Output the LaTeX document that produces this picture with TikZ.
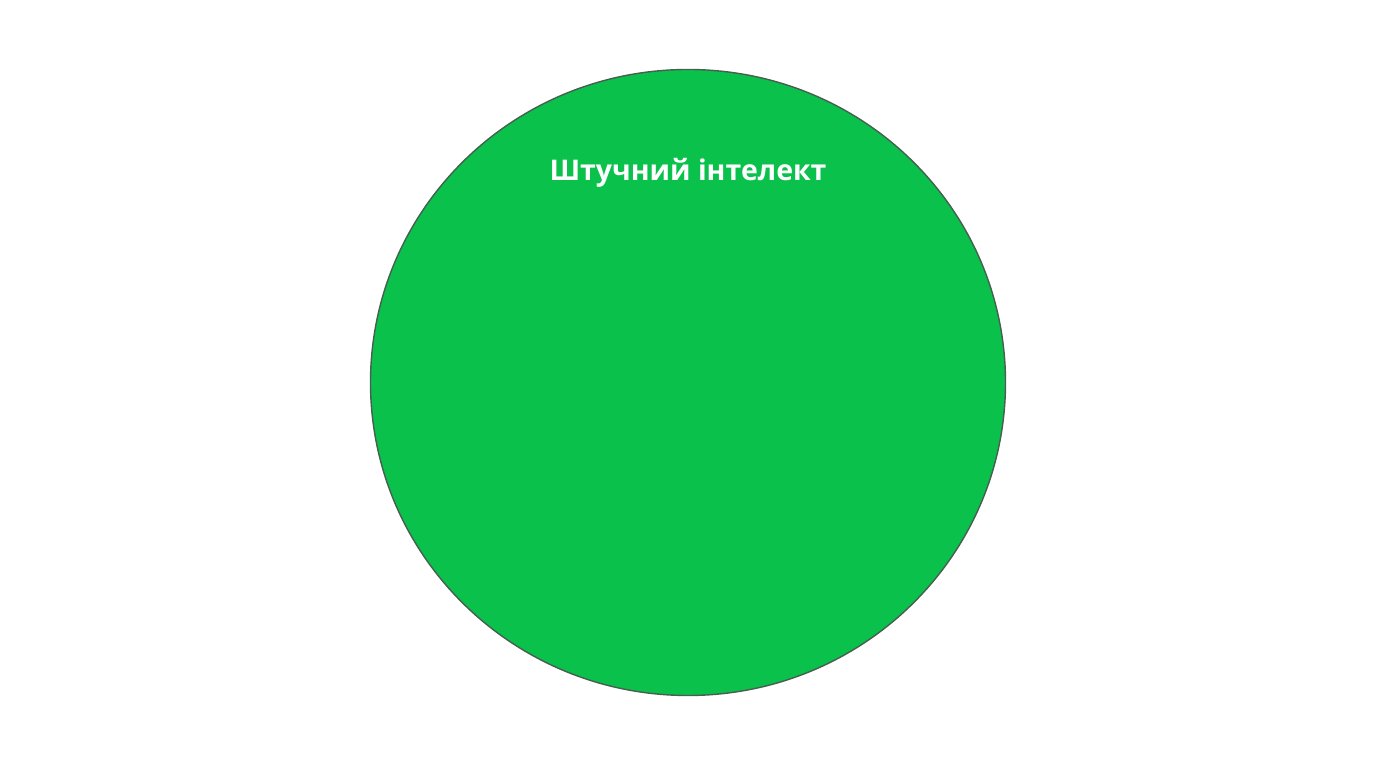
\documentclass[tikz,border=0pt]{standalone}
\usepackage{fontspec}
\setmainfont{Open Sans}
\usetikzlibrary{positioning}
\definecolor{aigreen}{RGB}{10,193,76}
\definecolor{aiedge}{RGB}{70,95,80}

\begin{document}
\begin{tikzpicture}[aicircle/.style={
	draw=aiedge,line width=0.4pt,fill=aigreen
}]
	\useasboundingbox (0,0) rectangle (13.76,7.68);
	\draw[aicircle] (6.88,3.855) ellipse [x radius=3.175,y radius=3.13];
	\node[text=white,font=\bfseries\fontsize{8.1}{10}\selectfont] at (6.88,5.955) (ai) {Штучний інтелект};
\end{tikzpicture}
\end{document}
